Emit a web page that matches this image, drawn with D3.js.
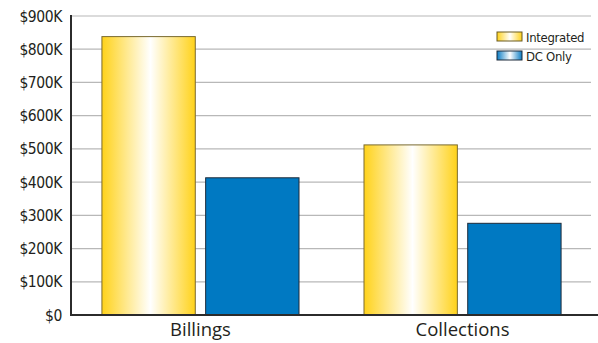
<!DOCTYPE html>
<html>
<head>
<meta charset="utf-8">
<script src="https://cdn.jsdelivr.net/npm/d3@7"></script>
<style>
  body { margin: 0; background: #fff; }
  .tick-label { font-family: "DejaVu Sans Condensed", sans-serif; font-size: 15.5px; fill: #231f20; letter-spacing: -0.4px; }
  .cat-label { font-family: "Open Sans", sans-serif; font-size: 18.5px; fill: #231f20; }
  .legend-label { font-family: "DejaVu Sans Condensed", sans-serif; font-size: 13px; fill: #231f20; letter-spacing: -0.3px; }
</style>
</head>
<body>
<div id="chart"></div>
<script>
// Chart data
var categories = ["Billings", "Collections"];
var seriesNames = ["Integrated", "DC Only"];
var integrated = [838000, 512000];
var dcOnly = [413000, 276000];
var yTicks = [0, 100000, 200000, 300000, 400000, 500000, 600000, 700000, 800000, 900000];

var svgWidth = 598;
var svgHeight = 343;

var svg = d3.select("#chart")
  .append("svg")
  .attr("width", svgWidth)
  .attr("height", svgHeight);

// Gradients for the yellow and blue fills
var defs = svg.append("defs");
function addGradient(id, edge) {
  var g = defs.append("linearGradient")
    .attr("id", id)
    .attr("x1", "0%").attr("x2", "100%")
    .attr("y1", "0%").attr("y2", "0%");
  g.append("stop").attr("offset", "0%").attr("stop-color", edge);
  g.append("stop").attr("offset", "52%").attr("stop-color", "#ffffff");
  g.append("stop").attr("offset", "100%").attr("stop-color", edge);
}
addGradient("gradYellow", "#ffd21a");
addGradient("gradBlue", "#0a7cc4");

// Scales
var yScale = d3.scaleLinear()
  .domain([0, 900000])
  .range([315, 16]);

var xScale = d3.scaleBand()
  .domain(categories)
  .range([71, 592])
  .paddingInner(0.248)
  .paddingOuter(0.118);

var xInner = d3.scaleBand()
  .domain(seriesNames)
  .range([0, xScale.bandwidth()])
  .paddingInner(0.1);

// Gridlines
svg.append("g")
  .selectAll("line")
  .data(yTicks.filter(d => d > 0))
  .enter()
  .append("line")
  .attr("x1", 71)
  .attr("x2", 591)
  .attr("y1", d => yScale(d))
  .attr("y2", d => yScale(d))
  .attr("stroke", "#b8b8b8")
  .attr("stroke-width", 1.2);

// Y tick labels
svg.append("g")
  .selectAll("text")
  .data(yTicks)
  .enter()
  .append("text")
  .attr("class", "tick-label")
  .attr("x", 62)
  .attr("y", d => yScale(d) + 5.5)
  .attr("text-anchor", "end")
  .text(d => d === 0 ? "$0" : "$" + (d / 1000) + "K");

// Bars
var rows = categories.map((c, i) => ({ cat: c, values: [integrated[i], dcOnly[i]] }));

var groups = svg.append("g")
  .selectAll("g")
  .data(rows)
  .enter()
  .append("g")
  .attr("transform", d => `translate(${xScale(d.cat)},0)`);

groups.selectAll("rect")
  .data(d => d.values.map((v, j) => ({ name: seriesNames[j], value: v })))
  .enter()
  .append("rect")
  .attr("x", d => xInner(d.name))
  .attr("y", d => yScale(d.value))
  .attr("width", xInner.bandwidth())
  .attr("height", d => yScale(0) - yScale(d.value))
  .attr("fill", d => d.name === "Integrated" ? "url(#gradYellow)" : "#0079c2")
  .attr("stroke", d => d.name === "Integrated" ? "#7a6a30" : "#1d2b3a")
  .attr("stroke-width", 1);

// Axis lines
svg.append("line")
  .attr("x1", 71).attr("x2", 71)
  .attr("y1", yScale(900000) - 1).attr("y2", yScale(0) + 1)
  .attr("stroke", "#2b2b2b")
  .attr("stroke-width", 2);

svg.append("line")
  .attr("x1", 70).attr("x2", 598)
  .attr("y1", yScale(0)).attr("y2", yScale(0))
  .attr("stroke", "#2b2b2b")
  .attr("stroke-width", 2);

// Category labels
svg.append("g")
  .selectAll("text")
  .data(categories)
  .enter()
  .append("text")
  .attr("class", "cat-label")
  .attr("x", d => xScale(d) + xScale.bandwidth() / 2)
  .attr("y", 336)
  .attr("text-anchor", "middle")
  .text(d => d);

// Legend
var legend = svg.append("g")
  .attr("transform", "translate(497,32)");

var legendItems = legend.selectAll("g")
  .data(seriesNames)
  .enter()
  .append("g")
  .attr("transform", (d, i) => `translate(0,${i * 19})`);

legendItems.append("rect")
  .attr("width", 25)
  .attr("height", 9)
  .attr("fill", (d, i) => i === 0 ? "url(#gradYellow)" : "url(#gradBlue)")
  .attr("stroke", (d, i) => i === 0 ? "#6a5a20" : "#1d2b3a")
  .attr("stroke-width", 1);

legendItems.append("text")
  .attr("class", "legend-label")
  .attr("x", 29)
  .attr("y", 9.5)
  .text(d => d);
</script>
</body>
</html>
